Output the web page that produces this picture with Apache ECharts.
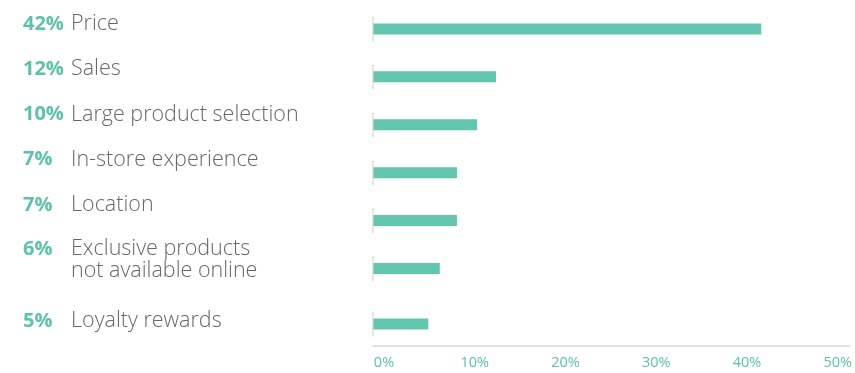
<!DOCTYPE html>
<html><head><meta charset="utf-8">
<script src="https://cdn.jsdelivr.net/npm/echarts@6/dist/echarts.min.js"></script>
<style>html,body{margin:0;padding:0;background:#fff}#c{width:855px;height:373px}</style>
</head><body><div id="c"></div>
<script>
// ---- data ----
const categories = ['Price', 'Sales', 'Large product selection', 'In-store experience', 'Location', 'Exclusive products\nnot available online', 'Loyalty rewards'];
const shareLabels = [42, 12, 10, 7, 7, 6, 5];
const barValues = [40.7, 12.9, 10.9, 8.8, 8.8, 7.0, 5.8];
const xTickLabels = ['0%', '10%', '20%', '30%', '40%', '50%'];

// ---- styles ----
const TEAL = '#62c5ad', PCT = '#5cc2a8', TXT = '#676767', AX = '#dcd9d3', SEG = '#d6d6d6';
const FONT = '"Open Sans", sans-serif';

function labelFmt(value) {
  const i = categories.indexOf(value);
  return categories[i].split('\n').map((l, k) =>
    k === 0 ? `{p|${shareLabels[i]}%}{t|${l}}` : `{s|}{t|${l}}`).join('\n');
}
const rich = {
  p: { color: PCT, fontWeight: 700, fontSize: 20, width: 48, fontFamily: FONT, lineHeight: 22 },
  t: { color: TXT, fontWeight: 300, fontSize: 21.5, fontFamily: FONT, lineHeight: 22 },
  s: { width: 48, lineHeight: 22, fontSize: 20 }
};
const labelAxis = (gi, data) => ({
  gridIndex: gi, type: 'category', data, inverse: true,
  axisLine: { show: false }, axisTick: { show: false }, splitLine: { show: false },
  axisLabel: { align: 'left', margin: 0, interval: 0, formatter: labelFmt, rich }
});
const hiddenVal = gi => ({ gridIndex: gi, type: 'value', min: 0, max: 1, show: false });

const chart = echarts.init(document.getElementById('c'), null, { renderer: 'canvas' });
chart.setOption({
  animation: false,
  textStyle: { fontFamily: FONT },
  grid: [
    { left: 23, top: 1.5, width: 320, height: 226 },
    { left: 23, top: 229.5, width: 320, height: 122 },
    { left: 373, right: 5, top: 5, height: 287.4 },
    { left: 373, right: 5, top: 302, height: 44 },
    { left: 384, right: 17, top: 302, height: 44 }
  ],
  xAxis: [
    hiddenVal(0), hiddenVal(1),
    { gridIndex: 2, type: 'value', min: 0, max: 50, show: false },
    { gridIndex: 3, type: 'value', min: 0, max: 50,
      axisLine: { show: true, lineStyle: { color: AX, width: 1.5 } },
      axisTick: { show: false }, axisLabel: { show: false }, splitLine: { show: false } },
    { gridIndex: 4, type: 'value', min: 0, max: 50, interval: 10,
      axisLine: { show: false }, axisTick: { show: false }, splitLine: { show: false },
      axisLabel: { color: PCT, fontSize: 14.5, margin: 9, fontFamily: FONT,
        formatter: v => xTickLabels[Math.round(v / 10)] } }
  ],
  yAxis: [
    labelAxis(0, categories.slice(0, 5)),
    labelAxis(1, categories.slice(5)),
    { gridIndex: 2, type: 'category', data: categories.slice(0, 6), inverse: true, show: false },
    { gridIndex: 3, type: 'category', data: categories.slice(6), inverse: true, show: false },
    hiddenVal(4)
  ],
  series: [
    { type: 'bar', xAxisIndex: 2, yAxisIndex: 2, data: barValues.slice(0, 6), barWidth: 11,
      itemStyle: { color: TEAL }, silent: true },
    { type: 'bar', xAxisIndex: 3, yAxisIndex: 3, data: barValues.slice(6), barWidth: 11,
      itemStyle: { color: TEAL }, silent: true },
    { type: 'scatter', xAxisIndex: 2, yAxisIndex: 2, clip: false, z: 3, silent: true,
      symbol: 'rect', symbolSize: [1.5, 25], itemStyle: { color: SEG },
      data: categories.slice(0, 6).map(c => [0, c]) },
    { type: 'scatter', xAxisIndex: 3, yAxisIndex: 3, clip: false, z: 3, silent: true,
      symbol: 'rect', symbolSize: [1.5, 25], itemStyle: { color: SEG },
      data: categories.slice(6).map(c => [0, c]) }
  ]
});
</script>
</body></html>
